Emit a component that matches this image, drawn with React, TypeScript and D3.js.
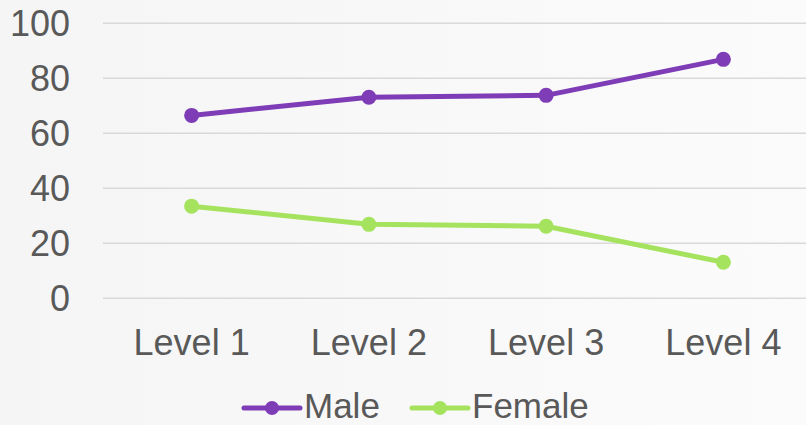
import React from 'react';
import * as d3 from 'd3';

const categories = ['Level 1', 'Level 2', 'Level 3', 'Level 4'];
const maleValues = [66.5, 73.1, 73.8, 86.9];
const femaleValues = [33.5, 26.9, 26.2, 13.1];
const yTicks = [0, 20, 40, 60, 80, 100];

const series = [
  { name: 'Male', values: maleValues, color: '#7e3cb6' },
  { name: 'Female', values: femaleValues, color: '#a5e35f' },
];

const W = 806;
const H = 425;
const FONT = '"Liberation Sans", Arial, sans-serif';
const TEXT = '#595959';

const App: React.FC = () => {
  const x = d3.scaleBand<string>().domain(categories).range([103, 812]);
  const y = d3.scaleLinear().domain([0, 100]).range([298.3, 23.3]);
  const cx = (c: string) => (x(c) ?? 0) + x.bandwidth() / 2;

  const line = d3
    .line<number>()
    .x((_, i) => cx(categories[i]))
    .y((d) => y(d));

  // legend layout
  const legend = [
    { x: 244, textX: 304 },
    { x: 412, textX: 472 },
  ];

  return (
    <svg
      width={W}
      height={H}
      style={{ position: 'absolute', left: 0, top: 0, display: 'block' }}
      fontFamily={FONT}
    >
      <defs>
        <linearGradient id="bg" x1="0" y1="0" x2="1" y2="0">
          <stop offset="0" stopColor="#f5f5f5" />
          <stop offset="1" stopColor="#fbfbfb" />
        </linearGradient>
      </defs>
      <rect width={W} height={H} fill="url(#bg)" />

      {/* gridlines + y labels */}
      {yTicks.map((t) => (
        <g key={t}>
          <line x1={103} x2={812} y1={y(t)} y2={y(t)} stroke="#d9d9d9" strokeWidth={1.5} />
          <text x={70} y={y(t)} dy="0.35em" textAnchor="end" fontSize={36} fill={TEXT}>
            {t}
          </text>
        </g>
      ))}

      {/* x labels */}
      {categories.map((c) => (
        <text key={c} x={cx(c)} y={355} textAnchor="middle" fontSize={36} fill={TEXT}>
          {c}
        </text>
      ))}

      {/* series */}
      {series.map((s) => (
        <g key={s.name}>
          <path d={line(s.values) || ''} fill="none" stroke={s.color} strokeWidth={5} strokeLinejoin="round" />
          {s.values.map((v, i) => (
            <circle key={i} cx={cx(categories[i])} cy={y(v)} r={7.5} fill={s.color} />
          ))}
        </g>
      ))}

      {/* legend */}
      {series.map((s, i) => (
        <g key={s.name}>
          <line x1={legend[i].x} x2={legend[i].x + 56} y1={408} y2={408} stroke={s.color} strokeWidth={5} strokeLinecap="round" />
          <circle cx={legend[i].x + 28} cy={408} r={7} fill={s.color} />
          <text x={legend[i].textX} y={418} fontSize={35} fill={TEXT}>
            {s.name}
          </text>
        </g>
      ))}
    </svg>
  );
};

export default App;
